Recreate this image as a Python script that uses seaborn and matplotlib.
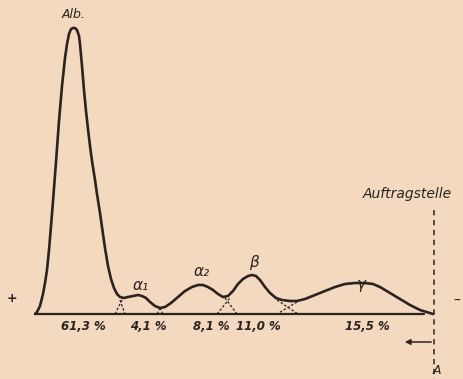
import matplotlib
matplotlib.use("Agg")
import matplotlib.pyplot as plt
import pandas as pd
import seaborn as sns

# densitometer trace: migration position and height above baseline
POSITION = [35, 37, 40, 43, 45, 47, 49, 51, 53, 56, 59, 62, 65, 67, 69, 71, 73, 75, 77, 79,
            80, 82, 84, 86, 88, 90, 92, 95, 97, 100, 102, 105, 108, 111, 114, 117, 120, 124,
            128, 133, 138, 142, 146, 150, 155, 160, 165, 171, 178, 185, 192, 198, 203, 208,
            213, 218, 223, 228, 233, 238, 243, 248, 252, 256, 260, 265, 270, 276, 282, 290,
            297, 305, 315, 325, 335, 345, 355, 365, 373, 380, 390, 400, 410, 420, 433]
HEIGHT = [0, 2, 8, 20, 31, 44, 64, 88, 113, 152, 193, 228, 256, 270, 280, 285, 286, 286, 284, 278,
          270, 248, 224, 203, 185, 168, 153, 134, 120, 101, 87, 66, 48, 35, 26, 20, 17, 16,
          17, 18, 19, 18, 16, 12, 8, 6, 7, 11, 17, 23, 27, 29, 29, 27,
          24, 20, 17, 18, 23, 30, 35, 38, 39, 38, 34, 27, 21, 16, 14, 13,
          13, 15, 19, 23, 27, 30, 31, 31, 30, 27, 21, 15, 9, 4, 0]

# dashed extrapolated flanks between fractions (x0, x1) and (h0, h1)
SPLIT_X = [(115, 123), (120, 125), (157, 160), (163, 160), (217, 230), (225, 237), (277, 298), (297, 277)]
SPLIT_H = [(0, 16), (14, 0), (0, 6), (0, 6), (0, 16), (16, 0), (14, 0), (12, 0)]

FRACTIONS = ["Alb.", "α₁", "α₂", "β", "γ"]
FRACTION_X = [74, 141, 202, 254, 361]
FRACTION_H = [300, 29, 42, 52, 29]

PERCENT = ["61,3 %", "4,1 %", "8,1 %", "11,0 %", "15,5 %"]
PERCENT_X = [83, 148, 211, 258, 367]

START_X = 434

INK = "#2b2320"
PAPER = "#f3d9bf"


def main() -> None:
    sns.set_theme(style="white")
    plt.rcParams["font.family"] = ["DejaVu Sans"]

    df = pd.DataFrame({"pos": POSITION, "h": HEIGHT})

    fig = plt.figure(figsize=(4.63, 3.79), dpi=100, facecolor=PAPER)
    ax = fig.add_axes([0, 0, 1, 1])
    ax.set_facecolor(PAPER)

    sns.lineplot(data=df, x="pos", y="h", sort=False, color=INK, linewidth=1.9, ax=ax)

    ax.plot([35, 424], [0, 0], color=INK, linewidth=1.6)
    for xs, hs in zip(SPLIT_X, SPLIT_H):
        ax.plot(xs, hs, color=INK, linewidth=0.9, linestyle=(0, (2, 1.5)))

    ax.plot([START_X, START_X], [104, -70], color=INK, linewidth=1.1, linestyle=(0, (3.5, 3)))
    ax.annotate("", xy=(402, -28), xytext=(START_X, -28),
                arrowprops=dict(arrowstyle="-|>", color=INK, lw=1.1, mutation_scale=8))

    style = dict(color=INK, fontstyle="italic", ha="center", va="center")
    ax.text(FRACTION_X[0], FRACTION_H[0], FRACTIONS[0], fontsize=9, **style)
    for name, x, h in zip(FRACTIONS[1:], FRACTION_X[1:], FRACTION_H[1:]):
        ax.text(x, h, name, fontsize=11, **style)
    for label, x in zip(PERCENT, PERCENT_X):
        ax.text(x, -12, label, fontsize=8.5, fontweight="bold", **style)
    ax.text(407, 120, "Auftragstelle", fontsize=10, **style)
    ax.text(437, -57, "A", fontsize=9, **style)
    ax.text(12, 16, "+", fontsize=9, fontweight="bold", color=INK, ha="center", va="center")
    ax.text(457, 13, "–", fontsize=10, color=INK, ha="center", va="center")

    ax.set_xlim(0, 463)
    ax.set_ylim(-65, 314)
    ax.set_axis_off()

    fig.savefig("out.png", dpi=100, facecolor=PAPER)
    plt.close(fig)


if __name__ == "__main__":
    main()
